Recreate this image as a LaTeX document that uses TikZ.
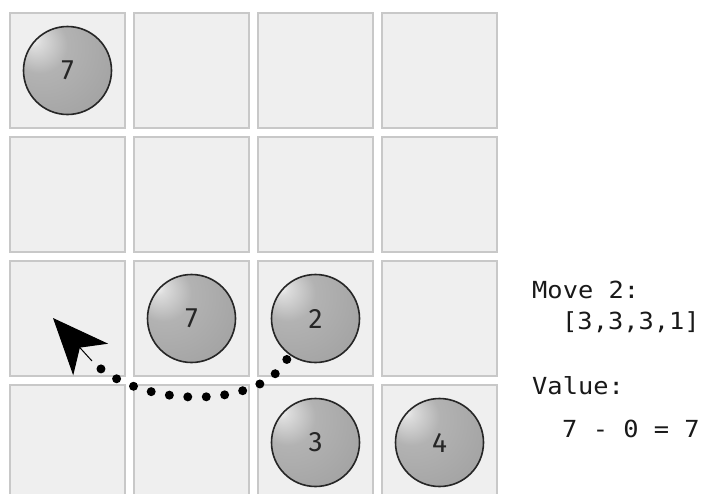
\documentclass[tikz,border=0pt]{standalone}
\usepackage{fontspec}
\setmonofont[FakeStretch=1.08]{DejaVu Sans Mono}
\newfontfamily\ballfont{Fira Sans}
\usetikzlibrary{arrows.meta}
\definecolor{cellgray}{HTML}{EFEFEF}
\definecolor{cellline}{HTML}{C8C8C8}
\pgfdeclareradialshading{ballgray}{\pgfpoint{-20bp}{18bp}}{%
 color(0bp)=(gray!8); color(4bp)=(gray!28); color(16bp)=(gray!60);
 color(40bp)=(gray!72); color(65bp)=(gray!88); color(80bp)=(gray!92)}

\begin{document}
\begin{tikzpicture}[x=1pt,y=-1pt,
 cell/.style={draw=cellline,fill=cellgray,line width=1.5pt,minimum size=115pt,inner sep=0pt},
 ball/.style={circle,shading=ballgray,draw=black!85,line width=1.6pt,minimum size=88pt,inner sep=0pt,outer sep=6pt,
   font=\ballfont\fontsize{28}{28}\selectfont,text=black!85},
 info/.style={anchor=base west,inner sep=0pt,font=\ttfamily\fontsize{23.5}{24}\selectfont,text=black!90},
 trail/.style={line width=9pt,line cap=round,dash pattern=on 0pt off 18.5pt}]
\useasboundingbox (0,0) rectangle (712,493);
\clip (0,0) rectangle (712,493);
\fill[white] (0,0) rectangle (712,493);
% board
\foreach \r in {0,...,3}
  \foreach \c in {0,...,3}
    \node[cell] (c\r\c) at (67.5+124*\c,70.5+124*\r) {};
\node[ball] (b7top) at (c00) {7};
\node[ball] (b7) at (c21) {7};
\node[ball] (b2) at (c22) {2};
\node[ball] (b3) at (c32) {3};
\node[ball] (b4) at (c33) {4};
% move trail
\coordinate (tail) at (92,361);
\coordinate (tip) at (53,318);
\draw[trail] (b2.235) .. controls (260,410) and (135,410) .. (88,357);
\draw[-{Stealth[length=56pt,width=47pt,inset=16pt]},line width=1pt] (tail) -- (tip);
% move info
\node[info] (move) at (532,298) {Move 2:};
\node[info] (movelist) at (562,329) {[3,3,3,1]};
\node[info] (value) at (532,394) {Value:};
\node[info] (valuecalc) at (562,437) {7 - 0 = 7};
\end{tikzpicture}
\end{document}
